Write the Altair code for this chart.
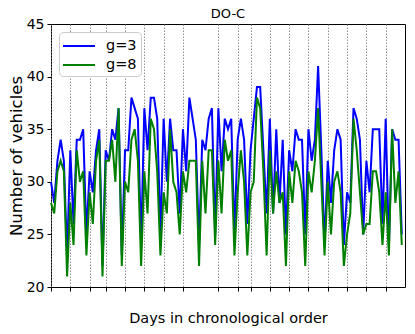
import altair as alt
import pandas as pd

# ---- data ----
days = list(range(110))
g3 = [30, 28, 32, 34, 32, 23, 33, 26, 34, 34,
      35, 25, 31, 29, 33, 35, 22, 33, 32, 35,
      34, 37, 23, 33, 33, 38, 37, 36, 24, 37,
      33, 38, 38, 36, 25, 36, 30, 36, 33, 33,
      27, 35, 31, 38, 36, 34, 24, 34, 33, 36,
      37, 25, 37, 31, 36, 35, 36, 25, 34, 36,
      34, 26, 33, 36, 39, 39, 33, 27, 36, 27,
      35, 28, 34, 25, 33, 31, 35, 34, 34, 25,
      35, 32, 34, 41, 33, 24, 32, 28, 33, 35,
      34, 24, 29, 28, 37, 36, 34, 25, 32, 29,
      35, 35, 35, 26, 36, 24, 35, 34, 34, 25]
g8 = [28, 27, 31, 32, 31, 21, 28, 24, 33, 30,
      31, 23, 29, 26, 32, 34, 21, 32, 32, 34,
      30, 37, 22, 30, 29, 34, 35, 32, 22, 31,
      27, 36, 35, 31, 23, 29, 27, 35, 30, 29,
      25, 31, 29, 32, 32, 32, 22, 32, 27, 33,
      33, 24, 32, 27, 34, 32, 33, 23, 29, 33,
      30, 23, 29, 30, 38, 37, 31, 23, 33, 27,
      31, 28, 29, 22, 31, 28, 32, 31, 29, 22,
      31, 29, 32, 37, 30, 23, 30, 25, 30, 31,
      29, 22, 25, 27, 36, 33, 29, 25, 26, 26,
      31, 31, 29, 24, 29, 23, 35, 28, 31, 24]
series_names = ["g=3", "g=8"]
series_colors = ["#0000ff", "#008000"]
tick_days = [0, 6, 12, 17, 23, 29, 35, 41, 52, 58, 62, 68, 74, 80, 86, 92, 98, 104]
y_ticks = [20, 25, 30, 35, 40, 45]

df = pd.DataFrame({
    "day": days + days,
    "vehicles": g3 + g8,
    "series": [series_names[0]] * len(days) + [series_names[1]] * len(days),
})

chart = alt.Chart(df, title=alt.TitleParams(
    "DO-C", fontSize=13, fontWeight="normal", color="black", offset=7, dy=21,
    anchor="middle", frame="group", baseline="alphabetic")
).mark_line(strokeWidth=2).encode(
    x=alt.X("day:Q",
            scale=alt.Scale(domain=[0, 110], nice=False, zero=False),
            axis=alt.Axis(values=tick_days, labels=False, tickSize=4, tickColor="black",
                          grid=True, gridDash=[1.5, 1.5], gridColor="#777777", gridWidth=0.8,
                          domain=False, title="Days in chronological order",
                          titleFontSize=14.5, titleFontWeight="normal", titleColor="black",
                          titleY=35, titleBaseline="alphabetic")),
    y=alt.Y("vehicles:Q",
            scale=alt.Scale(domain=[20, 45], nice=False, zero=False),
            axis=alt.Axis(values=y_ticks, grid=False, tickSize=4, tickColor="black",
                          domain=False, labelFontSize=14, labelColor="black", labelPadding=3,
                          title="Number of vehicles", titleFontSize=16.5,
                          titleFontWeight="normal", titleColor="black",
                          titleX=-29.5, titleY=131.5, titleAlign="center",
                          titleBaseline="alphabetic")),
    color=alt.Color("series:N",
                    scale=alt.Scale(domain=series_names, range=series_colors),
                    legend=alt.Legend(orient="none", legendX=8, legendY=8, title=None,
                                      symbolType="M-1.78,0H1.78", symbolSize=324,
                                      symbolStrokeWidth=2, symbolOffset=6,
                                      labelFontSize=14.5, labelColor="black",
                                      labelOffset=17, padding=4, rowPadding=2,
                                      strokeColor="#cccccc", fillColor="white",
                                      cornerRadius=4)),
).properties(
    width=354, height=263,
    padding={"left": 43, "top": 16, "right": 2, "bottom": 39},
    autosize=alt.AutoSizeParams(type="none"),
).configure(
    font="DejaVu Sans",
).configure_view(
    stroke="black", strokeWidth=1,
)

chart.save("out.html", embed_options={"renderer": "svg", "actions": False})
